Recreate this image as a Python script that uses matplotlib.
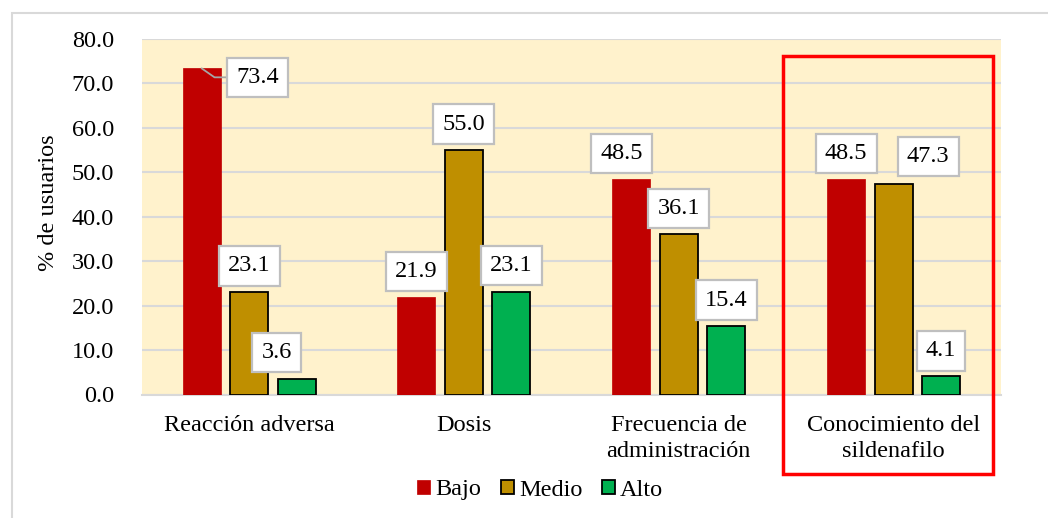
import matplotlib
matplotlib.use("Agg")
import matplotlib.pyplot as plt
from matplotlib.patches import Rectangle
import numpy as np

categories = ["Reacción adversa", "Dosis", "Frecuencia de\nadministración", "Conocimiento del\nsildenafilo"]
series_names = ["Bajo", "Medio", "Alto"]
bajo = [73.4, 21.9, 48.5, 48.5]
medio = [23.1, 55.0, 36.1, 47.3]
alto = [3.6, 23.1, 15.4, 4.1]
yticks = [0, 10, 20, 30, 40, 50, 60, 70, 80]

plt.rcParams['font.family'] = ['Liberation Serif', 'DejaVu Serif']

W, H, DPI = 1048, 518, 100
fig = plt.figure(figsize=(W / DPI, H / DPI), dpi=DPI)
fig.patch.set_facecolor('white')

def fx(px):
    return px / W

def fy(py):
    return 1 - py / H

ax = fig.add_axes([fx(141.7), fy(394.5), fx(1001) - fx(141.7), fy(39) - fy(394.5)])
ax.set_facecolor('#FFF2CC')

colors = ['#C00000', '#BF8F00', '#00B050']
edges = ['#C00000', '#000000', '#000000']
values = [bajo, medio, alto]
x = np.arange(len(categories))
off = 0.221
width = 0.177
FS = 17.5

for i, (vals, c, e, name) in enumerate(zip(values, colors, edges, series_names)):
    ax.bar(x + (i - 1) * off, vals, width, color=c, edgecolor=e,
           linewidth=1.3 if i else 0.5, label=name, zorder=3)

ax.set_xlim(-0.5, 3.5)
ax.set_ylim(0, 80)
ax.set_yticks(yticks)
ax.set_yticklabels([f"{v:.1f}" for v in yticks], fontsize=FS)
ax.set_xticks(x)
ax.set_xticklabels(categories, fontsize=FS, linespacing=1.3)
ax.tick_params(axis='both', length=0)
ax.tick_params(axis='y', pad=20)
ax.tick_params(axis='x', pad=15)
ax.yaxis.grid(True, color='#D9D9D9', linewidth=1.5, zorder=0)
ax.set_axisbelow(True)
for s in ['left', 'right', 'top']:
    ax.spines[s].set_visible(False)
ax.spines['bottom'].set_color('#D9D9D9')
ax.spines['bottom'].set_linewidth(1.5)

fig.text(fx(48), fy(203), "% de usuarios", rotation=90, ha='center', va='center', fontsize=FS)

# label offsets in pixels (dx, dy) from bar top center to label center
offsets = {
    (0, 0): (56, -9), (0, 1): (0, 26), (0, 2): (-20, 26),
    (1, 0): (0, 25.5), (1, 1): (0, 26), (1, 2): (0, 26.5),
    (2, 0): (-9.5, 25.5), (2, 1): (0, 25.5), (2, 2): (0, 26),
    (3, 0): (0, 25.5), (3, 1): (34.5, 28), (3, 2): (0, 25.5),
}
bbox = dict(boxstyle='square,pad=0.38', facecolor='white', edgecolor='#BFBFBF', linewidth=1.6)
for i, vals in enumerate(values):
    for j, v in enumerate(vals):
        dx, dy = offsets[(j, i)]
        xp = x[j] + (i - 1) * off
        kw = {}
        if (j, i) == (0, 0):
            kw['arrowprops'] = dict(arrowstyle='-', color='#A6A6A6', lw=1.3, shrinkA=0, shrinkB=0,
                                    connectionstyle='angle,angleA=0,angleB=-35,rad=0')
        ax.annotate(f"{v:.1f}", xy=(xp, v), xytext=(dx, dy), textcoords='offset pixels',
                    ha='center', va='center', fontsize=FS, bbox=bbox, zorder=5, **kw)

leg = fig.legend(loc='center', bbox_to_anchor=(fx(540), fy(490)), ncol=3, frameon=False,
                 fontsize=FS, handlelength=0.55, handleheight=0.55, handletextpad=0.2,
                 columnspacing=0.8, borderaxespad=0)

# outer chart border
fig.patches.append(Rectangle((fx(12), fy(560)), fx(1100), fy(13) - fy(560),
                             transform=fig.transFigure, fill=False, edgecolor='#D9D9D9', linewidth=1.5))
# highlight rectangle
fig.patches.append(Rectangle((fx(783), fy(474)), fx(993) - fx(783), fy(56) - fy(474),
                             transform=fig.transFigure, fill=False, edgecolor='#FF0000', linewidth=2.5,
                             zorder=10))

fig.savefig('out.png', dpi=DPI)
